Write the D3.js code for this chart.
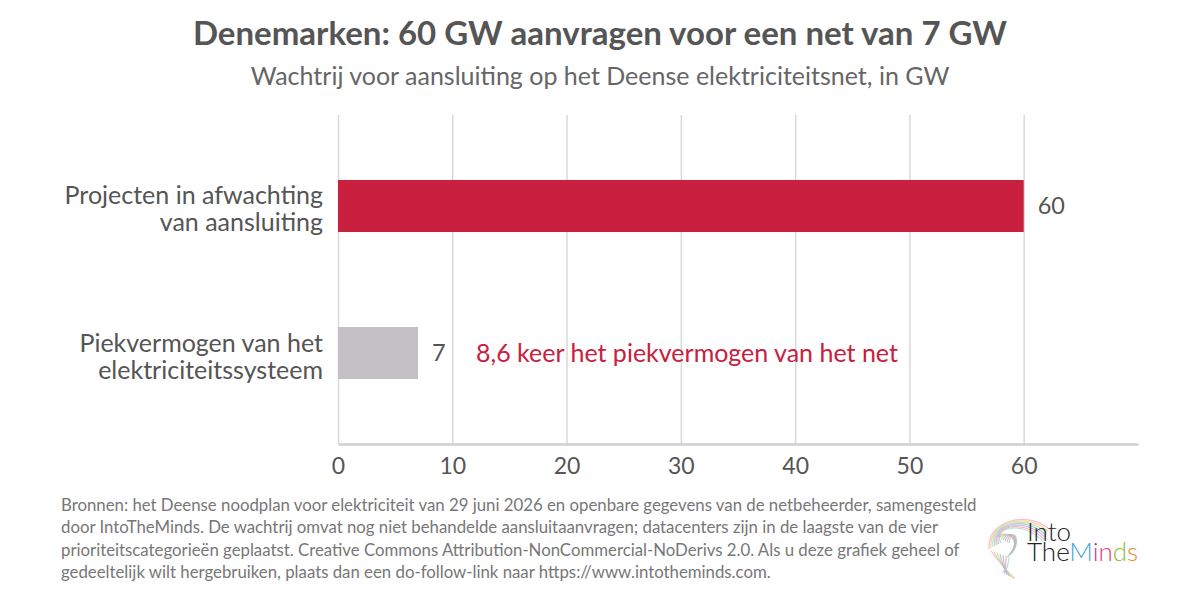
<!DOCTYPE html>
<html lang="nl">
<head>
    <meta charset="UTF-8">
    <title>Denemarken: 60 GW aanvragen voor een net van 7 GW</title>
    <script src="https://d3js.org/d3.v7.min.js"></script>
    <style>
        body { margin: 0; background: #fff; font-family: Lato, "Open Sans", sans-serif; }
        svg text { font-family: Lato, sans-serif; }
        .grid line { stroke: #d9d9d9; stroke-width: 1.5; }
        .grid .domain { display: none; }
    </style>
</head>
<body>
<svg id="chart" width="1200" height="600"></svg>
<script>
    // data
    const categories = [
        ["Projecten in afwachting", "van aansluiting"],
        ["Piekvermogen van het", "elektriciteitssysteem"]
    ];
    const values = [60, 7];
    const barColors = ["#c8203e", "#c3c1c3"];
    const xTicks = [0, 10, 20, 30, 40, 50, 60];
    const annotation = "8,6 keer het piekvermogen van het net";
    const title = "Denemarken: 60 GW aanvragen voor een net van 7 GW";
    const subtitle = "Wachtrij voor aansluiting op het Deense elektriciteitsnet, in GW";
    const sourceLines = [
        "Bronnen: het Deense noodplan voor elektriciteit van 29 juni 2026 en openbare gegevens van de netbeheerder, samengesteld",
        "door IntoTheMinds. De wachtrij omvat nog niet behandelde aansluitaanvragen; datacenters zijn in de laagste van de vier",
        "prioriteitscategorieën geplaatst. Creative Commons Attribution-NonCommercial-NoDerivs 2.0. Als u deze grafiek geheel of",
        "gedeeltelijk wilt hergebruiken, plaats dan een do-follow-link naar https://www.intotheminds.com."
    ];

    const svg = d3.select("#chart");
    const plotTop = 115, plotBottom = 444;

    const x = d3.scaleLinear().domain([0, 70]).range([338, 1138]);
    const y = d3.scaleBand()
        .domain(d3.range(values.length))
        .range([plotTop, plotBottom])
        .paddingInner(0.646)
        .paddingOuter(0.442);

    // titles
    svg.append("text")
        .attr("x", 600).attr("y", 45)
        .attr("text-anchor", "middle")
        .attr("font-size", 33).attr("font-weight", "bold")
        .attr("fill", "#555")
        .text(title);
    svg.append("text")
        .attr("x", 600).attr("y", 85)
        .attr("text-anchor", "middle")
        .attr("font-size", 25)
        .attr("fill", "#666")
        .text(subtitle);

    // gridlines
    svg.append("g")
        .attr("class", "grid")
        .attr("transform", `translate(0,${plotBottom})`)
        .call(d3.axisBottom(x).tickValues(xTicks).tickSize(-(plotBottom - plotTop)).tickFormat(""));

    // bars
    svg.selectAll(".bar")
        .data(values)
        .enter().append("rect")
        .attr("class", "bar")
        .attr("x", x(0))
        .attr("y", (d, i) => y(i))
        .attr("width", d => x(d) - x(0))
        .attr("height", y.bandwidth())
        .attr("fill", (d, i) => barColors[i]);

    // value labels
    svg.selectAll(".val")
        .data(values)
        .enter().append("text")
        .attr("class", "val")
        .attr("x", d => x(d) + 14)
        .attr("y", (d, i) => y(i) + y.bandwidth() / 2)
        .attr("dy", "0.35em")
        .attr("font-size", 23.5)
        .attr("fill", "#555")
        .text(d => d);

    // annotation
    svg.append("text")
        .attr("x", x(values[1]) + 58)
        .attr("y", y(1) + y.bandwidth() / 2)
        .attr("dy", "0.35em")
        .attr("font-size", 25)
        .attr("fill", "#c8203e")
        .text(annotation);

    // category labels
    categories.forEach((lines, i) => {
        const t = svg.append("text")
            .attr("text-anchor", "end")
            .attr("font-size", 25)
            .attr("fill", "#555");
        lines.forEach((ln, j) => {
            t.append("tspan")
                .attr("x", 323)
                .attr("y", y(i) + y.bandwidth() / 2 - 1.5 + j * 27)
                .text(ln);
        });
    });

    // x axis
    const xAxis = svg.append("g")
        .attr("transform", `translate(0,${plotBottom})`)
        .call(d3.axisBottom(x).tickValues(xTicks).tickSize(0).tickPadding(14));
    xAxis.select(".domain").attr("stroke", "#d0ced0").attr("stroke-width", 2.5);
    xAxis.selectAll("text")
        .attr("font-size", 23)
        .attr("fill", "#555")
        .style("font-family", "Lato, sans-serif");

    // source note
    const src = svg.append("text")
        .attr("font-size", 16.8)
        .attr("fill", "#777");
    sourceLines.forEach((ln, i) => {
        src.append("tspan")
            .attr("x", 61)
            .attr("y", 511 + i * 22.3)
            .text(ln);
    });

    // logo
    const logo = svg.append("g").attr("transform", "translate(983,515)");
    const brainColors = ["#f4a6c8", "#f7c873", "#b6dd8a", "#86c7ec", "#c7a4e0", "#f29aa0", "#9fd6d0"];
    brainColors.forEach((c, i) => {
        logo.append("path")
            .attr("d", `M${6 + i * 2},${34 - i} C${4 + i},${4 + i * 2} ${46 - i * 2},${-4 + i} ${66 - i},${14 + i * 2}`
                + ` M${8 + i * 3},${36 + i} C${18 + i},${50 + i * 2} ${26 - i},${58 - i} ${32 - i * 2},${64 - i}`
                + ` M${14 + i * 2},${22 + i} C${24 + i},${14 - i} ${36 + i},${24 + i} ${30 - i},${36 + i}`)
            .attr("fill", "none")
            .attr("stroke", c)
            .attr("stroke-width", 1.2)
            .attr("opacity", 0.75);
    });
    logo.append("text")
        .attr("x", 44).attr("y", 26)
        .attr("font-size", 26).attr("font-weight", 300)
        .attr("fill", "#222")
        .text("Into");
    const tm = logo.append("text")
        .attr("x", 44).attr("y", 46)
        .attr("font-size", 26).attr("font-weight", 300);
    [["The", "#222"], ["M", "#45a5dc"], ["i", "#d8338c"], ["n", "#e4406e"], ["d", "#8cbd3c"], ["s", "#ef8a2c"]]
        .forEach(([s, c]) => tm.append("tspan").attr("fill", c).text(s));
</script>
</body>
</html>
